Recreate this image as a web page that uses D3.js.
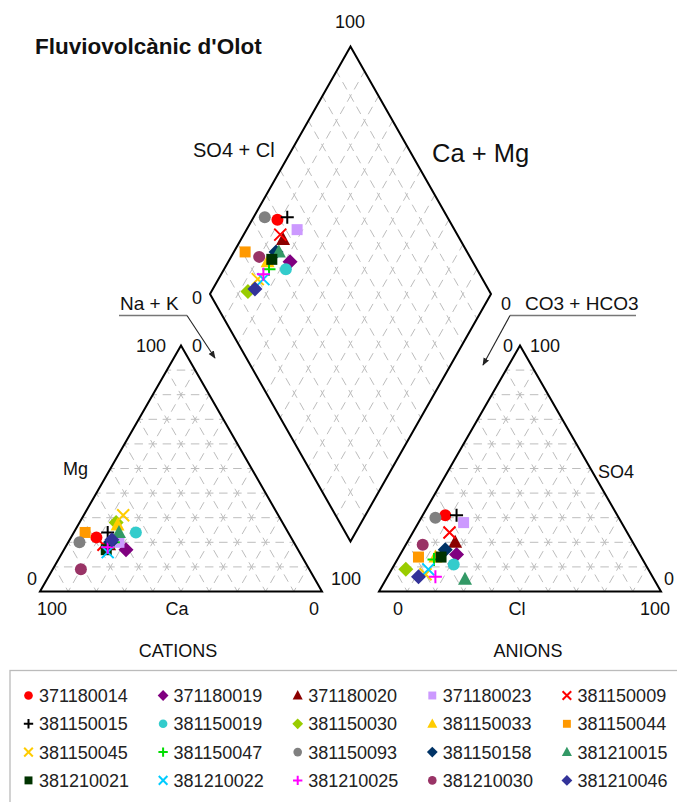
<!DOCTYPE html>
<html><head><meta charset="utf-8">
<script src="https://cdn.jsdelivr.net/npm/d3@7"></script>
<style>body{margin:0;background:#fff}svg{display:block;font-family:Arial,"Liberation Sans",sans-serif}</style>
</head><body><svg id="c" width="677" height="802"></svg>
<script>
// ---- data (percent of meq) ----
const samples = ["371180014","371180019","371180020","371180023","381150009",
  "381150015","381150019","381150030","381150033","381150044",
  "381150045","381150047","381150093","381150158","381210015",
  "381210021","381210022","381210025","381210030","381210046"];
const ca   = [69,61,66,62,68, 64,54,59,59,72, 55,64,76,65,60, 68,68,67,81,64];
const mg   = [22,17,19,20,19, 24,24,28,27,24, 31,20,20,20,24, 17,16,18, 9,21];
const nak  = [ 9,22,15,18,13, 12,22,13,14, 4, 14,16, 4,15,16, 15,16,15,10,15];
const hco3 = [61,65,63,56,63, 57,68,86,73,79, 80,74,65,68,67, 71,78,77,75,83];
const so4  = [31,15,20,28,24, 31,11, 9,14,14,  7,13,30,17, 5, 14, 9, 6,19, 6];
const cl   = [ 8,20,17,16,13, 12,21, 5,13, 7, 13,13, 5,15,28, 15,13,17, 6,11];
const gridTicks = [10,20,30,40,50,60,70,80,90];

// ---- styles ----
const colors = ["#ff0000","#800080","#8b0000","#cc99ff","#ff0000",
  "#000000","#33cccc","#99cc00","#ffcc00","#ff9900",
  "#ffcc00","#00dd00","#808080","#003366","#339966",
  "#003300","#00ccff","#ff00ff","#993366","#333399"];
const shapes = ["circle","diamond","triangle","square","x",
  "plus","circle","diamond","triangle","square",
  "x","plus","circle","diamond","triangle",
  "square","x","plus","circle","diamond"];

const svg = d3.select("#c");
const baseY = 591.5, apexY = 345.5;
const yT = d3.scaleLinear().domain([0,100]).range([baseY, apexY]);
const xC = d3.scaleLinear().domain([0,100]).range([40,322]);     // cations: NaK + Mg/2
const xA = d3.scaleLinear().domain([0,100]).range([379,661]);    // anions: Cl + SO4/2
const dX = d3.scaleLinear().domain([-100,100]).range([210,491]); // diamond: (SO4+Cl)-(Ca+Mg)
const dY = d3.scaleLinear().domain([0,200]).range([541.5,46.5]); // diamond: (SO4+Cl)+(Ca+Mg)

const catPos = (c,m,n) => [xC(n + m/2), yT(m)];
const aniPos = (h,s,c) => [xA(c + s/2), yT(s)];
const diaPos = (u,v) => [dX(v-u), dY(u+v)];

const gridG = svg.append("g").attr("stroke","#bdbdbd").attr("stroke-width",1)
  .attr("stroke-dasharray","8.5,5.6").attr("stroke-dashoffset",4.25).attr("fill","none");
const line = d3.line();
function seg(p,q){ gridG.append("path").attr("d", line([p,q])); }

// triangle grids
[catPos, aniPos].forEach(P=>{
  gridTicks.forEach(t=>{
    seg(P(100-t,t,0), P(0,t,100-t));
    seg(P(100-t,0,t), P(0,100-t,t));
    seg(P(t,100-t,0), P(t,0,100-t));
  });
});
// diamond grid
gridTicks.forEach(t=>{
  seg(diaPos(t,0), diaPos(t,100));
  seg(diaPos(0,t), diaPos(100,t));
});

// outlines
const outG = svg.append("g").attr("fill","none").attr("stroke","#000").attr("stroke-width",2).attr("stroke-linejoin","miter");
outG.append("path").attr("d", line([catPos(100,0,0),catPos(0,100,0),catPos(0,0,100)])+"Z");
outG.append("path").attr("d", line([aniPos(100,0,0),aniPos(0,100,0),aniPos(0,0,100)])+"Z");
outG.append("path").attr("d", line([diaPos(0,0),diaPos(100,0),diaPos(100,100),diaPos(0,100)])+"Z");

// symbols
function sym(g, shape, color, x, y, s){
  if(shape==="circle") g.append("circle").attr("cx",x).attr("cy",y).attr("r",6*s).attr("fill",color);
  else if(shape==="square") g.append("rect").attr("x",x-5.5*s).attr("y",y-5.5*s).attr("width",11*s).attr("height",11*s).attr("fill",color);
  else if(shape==="diamond") g.append("path").attr("d",`M${x},${y-7.5*s}L${x+7.5*s},${y}L${x},${y+7.5*s}L${x-7.5*s},${y}Z`).attr("fill",color);
  else if(shape==="triangle") g.append("path").attr("d",`M${x},${y-7.5*s}L${x+7*s},${y+5.5*s}L${x-7*s},${y+5.5*s}Z`).attr("fill",color);
  else if(shape==="x") g.append("path").attr("d",`M${x-6*s},${y-6*s}L${x+6*s},${y+6*s}M${x+6*s},${y-6*s}L${x-6*s},${y+6*s}`).attr("stroke",color).attr("stroke-width",2);
  else if(shape==="plus") g.append("path").attr("d",`M${x-6.5*s},${y}L${x+6.5*s},${y}M${x},${y-6.5*s}L${x},${y+6.5*s}`).attr("stroke",color).attr("stroke-width",2);
}
const ptG = svg.append("g");
samples.forEach((id,i)=>{
  const [cx,cy] = catPos(ca[i],mg[i],nak[i]);
  sym(ptG, shapes[i], colors[i], cx, cy, 1);
});
samples.forEach((id,i)=>{
  const [ax,ay] = aniPos(hco3[i],so4[i],cl[i]);
  sym(ptG, shapes[i], colors[i], ax, ay, 1);
});
samples.forEach((id,i)=>{
  const [px,py] = diaPos(ca[i]+mg[i], so4[i]+cl[i]);
  sym(ptG, shapes[i], colors[i], px, py, 1);
});

// texts
function txt(x,y,s,size,anchor,weight){
  return svg.append("text").attr("x",x).attr("y",y).attr("font-size",size)
    .attr("text-anchor",anchor||"start").attr("font-weight",weight||"normal").attr("fill","#111").text(s);
}
txt(35,54,"Fluviovolcànic d'Olot",22.5,"start","bold");
txt(350,28,"100",18,"middle");
txt(193,157,"SO4 + Cl",20,"start");
txt(432,162,"Ca + Mg",25.5,"start");
txt(202,304,"0",18,"end");
txt(501,310,"0",18,"start");
txt(525,310,"CO3 + HCO3",19,"start");
txt(120,310,"Na + K",19,"start");
txt(166,352,"100",18,"end");
txt(192,352,"0",18,"start");
txt(513,352,"0",18,"end");
txt(530,352,"100",18,"start");
txt(63,475,"Mg",18,"start");
txt(598,478,"SO4",18,"start");
txt(37,585,"0",18,"end");
txt(331,585,"100",18,"start");
txt(664,585,"0",18,"start");
txt(52,615,"100",18,"middle");
txt(177,615,"Ca",18,"middle");
txt(314,615,"0",18,"middle");
txt(398,615,"0",18,"middle");
txt(517,615,"Cl",18,"middle");
txt(655,615,"100",18,"middle");
txt(178,657,"CATIONS",18,"middle");
txt(528,657,"ANIONS",18,"middle");

// arrows
svg.append("defs").append("marker").attr("id","ah").attr("viewBox","0 0 10 10").attr("refX",9).attr("refY",5)
  .attr("markerWidth",7).attr("markerHeight",7).attr("orient","auto")
  .append("path").attr("d","M0,1L10,5L0,9Z").attr("fill","#222");
svg.append("path").attr("d","M119,315.5L187,315.5").attr("stroke","#777").attr("stroke-width",1.3).attr("fill","none");
svg.append("path").attr("d","M187,315.5L215,358").attr("stroke","#222").attr("stroke-width",1.1).attr("fill","none").attr("marker-end","url(#ah)");
svg.append("path").attr("d","M510,315.5L636,315.5").attr("stroke","#777").attr("stroke-width",1.3).attr("fill","none");
svg.append("path").attr("d","M510,315.5L483,365").attr("stroke","#222").attr("stroke-width",1.1).attr("fill","none").attr("marker-end","url(#ah)");

// legend
svg.append("rect").attr("x",10).attr("y",670.5).attr("width",670).attr("height",140)
  .attr("fill","none").attr("stroke","#bbb").attr("stroke-width",1.3);
const legG = svg.append("g");
samples.forEach((id,i)=>{
  const col = i%5, row = Math.floor(i/5);
  const mx = 28.5 + col*134.6, my = 695.5 + row*28.3;
  sym(legG, shapes[i], colors[i], mx, my, 0.72);
  legG.append("text").attr("x",mx+10.5).attr("y",my+6.5).attr("font-size",18).attr("fill","#222").text(id);
});
</script></body></html>
